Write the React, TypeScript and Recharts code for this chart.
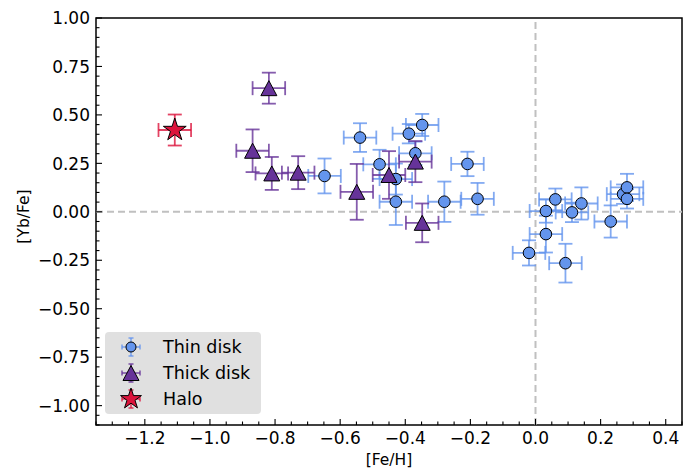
import { ScatterChart, Scatter, XAxis, YAxis, ErrorBar, ReferenceLine, ReferenceArea, Legend } from 'recharts';

// Thin disk stars
const thinFeH = [-0.648, -0.539, -0.479, -0.429, -0.429, -0.389, -0.348, -0.369, -0.28, -0.209, -0.178, -0.02, 0.032, 0.032, 0.061, 0.092, 0.112, 0.141, 0.231, 0.269, 0.281, 0.281];
const thinYbFe = [0.185, 0.383, 0.245, 0.169, 0.052, 0.403, 0.448, 0.302, 0.052, 0.247, 0.067, -0.212, -0.115, 0.004, 0.064, -0.265, -0.003, 0.043, -0.05, 0.091, 0.126, 0.067];
const thinErrFeH = [0.05, 0.05, 0.05, 0.05, 0.05, 0.05, 0.05, 0.05, 0.05, 0.05, 0.05, 0.05, 0.05, 0.05, 0.05, 0.05, 0.05, 0.05, 0.05, 0.05, 0.05, 0.05];
const thinErrYbFe = [0.09, 0.074, 0.075, 0.08, 0.12, 0.05, 0.057, 0.06, 0.104, 0.063, 0.082, 0.065, 0.095, 0.06, 0.056, 0.1, 0.05, 0.083, 0.083, 0.05, 0.07, 0.05];

// Thick disk stars
const thickFeH = [-0.819, -0.869, -0.81, -0.729, -0.549, -0.45, -0.369, -0.348];
const thickYbFe = [0.638, 0.315, 0.198, 0.202, 0.103, 0.19, 0.259, -0.057];
const thickErrFeH = [0.05, 0.05, 0.05, 0.05, 0.05, 0.05, 0.05, 0.05];
const thickErrYbFe = [0.08, 0.11, 0.085, 0.085, 0.144, 0.123, 0.106, 0.1];

// Halo star
const haloFeH = [-1.108];
const haloYbFe = [0.422];
const haloErrFeH = [0.05];
const haloErrYbFe = [0.08];

const xMajorTicks = [-1.2, -1.0, -0.8, -0.6, -0.4, -0.2, 0.0, 0.2, 0.4];
const yMajorTicks = [-1.0, -0.75, -0.5, -0.25, 0.0, 0.25, 0.5, 0.75, 1.0];

const X_DOMAIN = [-1.35, 0.45];
const Y_DOMAIN = [-1.1, 1.0];

// minor ticks every 0.05 (major ones included, drawn longer + labelled)
const xTicks = Array.from({ length: 37 }, (_, i) => Math.round((-1.35 + i * 0.05) * 100) / 100);
const yTicks = Array.from({ length: 43 }, (_, i) => Math.round((-1.1 + i * 0.05) * 100) / 100);

const FONT = '"DejaVu Sans", sans-serif';

const toRows = (xs: number[], ys: number[], exs: number[], eys: number[]) =>
  xs.map((x, i) => ({ x, y: ys[i], ex: exs[i], ey: eys[i] }));

const SERIES = [
  { name: 'Thin disk', color: '#6495ED', shape: 'circle', data: toRows(thinFeH, thinYbFe, thinErrFeH, thinErrYbFe) },
  { name: 'Thick disk', color: '#663399', shape: 'triangle', data: toRows(thickFeH, thickYbFe, thickErrFeH, thickErrYbFe) },
  { name: 'Halo', color: '#DC143C', shape: 'star', data: toRows(haloFeH, haloYbFe, haloErrFeH, haloErrYbFe) },
];

function starPath(cx: number, cy: number, R: number) {
  const r = R * 0.381966;
  const pts: string[] = [];
  for (let i = 0; i < 10; i++) {
    const a = -Math.PI / 2 + (i * Math.PI) / 5;
    const rad = i % 2 === 0 ? R : r;
    pts.push(`${cx + rad * Math.cos(a)},${cy + rad * Math.sin(a)}`);
  }
  return `M${pts.join('L')}Z`;
}

function marker(shape: string, color: string, cx: number, cy: number, small = false) {
  if (shape === 'circle') {
    return <circle cx={cx} cy={cy} r={small ? 5 : 5.8} fill={color} stroke="#000" strokeWidth={1} />;
  }
  if (shape === 'triangle') {
    const w = 8;
    const h = 7.5;
    return (
      <path
        d={`M${cx},${cy - h}L${cx + w},${cy + h}L${cx - w},${cy + h}Z`}
        fill={color}
        stroke="#000"
        strokeWidth={1}
        strokeLinejoin="miter"
      />
    );
  }
  return <path d={starPath(cx, cy, small ? 11 : 12)} fill={color} stroke="#000" strokeWidth={1} />;
}

const isMajor = (v: number, step: number) => Math.abs(v / step - Math.round(v / step)) < 1e-6;
const fmt = (v: number, d: number) => (Math.abs(v) < 1e-9 ? 0 : v).toFixed(d).replace('-', '\u2212');

function XTick({ x, y, payload }: any) {
  const major = isMajor(payload.value, 0.2);
  return (
    <g>
      <line x1={x} x2={x} y1={y} y2={y - (major ? 6 : 3.5)} stroke="#000" strokeWidth={1.1} />
      {major && (
        <text x={x} y={y + 19} textAnchor="middle" fontSize={17} fontFamily={FONT} fill="#000">
          {fmt(payload.value, 1)}
        </text>
      )}
    </g>
  );
}

function YTick({ x, y, payload }: any) {
  const major = isMajor(payload.value, 0.25);
  return (
    <g>
      <line x1={x} x2={x + (major ? 6 : 3.5)} y1={y} y2={y} stroke="#000" strokeWidth={1.1} />
      {major && (
        <text x={x - 6} y={y + 6.2} textAnchor="end" fontSize={17} fontFamily={FONT} fill="#000">
          {fmt(payload.value, 2)}
        </text>
      )}
    </g>
  );
}

function LegendBox() {
  return (
    <div
      style={{
        background: '#e0e0e0',
        borderRadius: 4,
        padding: '2px 0',
        fontFamily: FONT,
        fontSize: 17.5,
        color: '#000',
      }}
    >
      {SERIES.map((s) => (
        <div key={s.name} style={{ display: 'flex', alignItems: 'center', height: 26 }}>
          <svg width={52} height={26} style={{ marginLeft: 4, flex: 'none' }}>
            <g stroke={s.color} strokeOpacity={0.8} strokeWidth={1.6}>
              <line x1={13} x2={31} y1={13} y2={13} />
              <line x1={22} x2={22} y1={4} y2={22} />
              <line x1={13} x2={13} y1={10.5} y2={15.5} />
              <line x1={31} x2={31} y1={10.5} y2={15.5} />
              <line x1={19.5} x2={24.5} y1={4} y2={4} />
              <line x1={19.5} x2={24.5} y1={22} y2={22} />
            </g>
            {marker(s.shape, s.color, 22, 13, true)}
          </svg>
          <span style={{ marginLeft: 2, lineHeight: '26px' }}>{s.name}</span>
        </div>
      ))}
    </div>
  );
}

export default function App() {
  return (
    <div style={{ position: 'absolute', left: 0, top: 0 }}>
      <style>{'body{margin:0}'}</style>
      <ScatterChart width={695} height={468} margin={{ top: 18, right: 13, bottom: 0, left: 0 }}>
        <XAxis
          type="number"
          dataKey="x"
          domain={X_DOMAIN}
          ticks={xTicks}
          interval={0}
          allowDataOverflow
          axisLine={false}
          tickLine={false}
          tickSize={0}
          tickMargin={0}
          height={43}
          tick={<XTick />}
          label={{
            content: ({ viewBox }: any) => (
              <text
                x={viewBox.x + viewBox.width / 2}
                y={viewBox.y + 40}
                textAnchor="middle"
                fontSize={15.5}
                fontFamily={FONT}
                fill="#000"
              >
                [Fe/H]
              </text>
            ),
          }}
        />
        <YAxis
          type="number"
          dataKey="y"
          domain={Y_DOMAIN}
          ticks={yTicks}
          interval={0}
          allowDataOverflow
          axisLine={false}
          tickLine={false}
          tickSize={0}
          tickMargin={0}
          width={96}
          tick={<YTick />}
          label={{
            content: ({ viewBox }: any) => {
              const cx = viewBox.x + 29;
              const cy = viewBox.y + viewBox.height / 2 - 5;
              return (
                <text
                  x={cx}
                  y={cy}
                  transform={`rotate(-90 ${cx} ${cy})`}
                  textAnchor="middle"
                  fontSize={15.5}
                  fontFamily={FONT}
                  fill="#000"
                >
                  [Yb/Fe]
                </text>
              );
            },
          }}
        />
        <ReferenceLine y={0} stroke="#c0c0c0" strokeWidth={2} strokeDasharray="7 4" />
        <ReferenceLine x={0} stroke="#c0c0c0" strokeWidth={2} strokeDasharray="7 4" />
        <ReferenceArea
          x1={X_DOMAIN[0]}
          x2={X_DOMAIN[1]}
          y1={Y_DOMAIN[0]}
          y2={Y_DOMAIN[1]}
          fill="none"
          fillOpacity={0}
          stroke="#000"
          strokeWidth={1.5}
        />
        {SERIES.map((s) => (
          <Scatter
            key={s.name}
            name={s.name}
            data={s.data}
            isAnimationActive={false}
            shape={(p: any) => marker(s.shape, s.color, p.cx, p.cy)}
          >
            <ErrorBar dataKey="ex" direction="x" width={7} stroke={s.color} strokeOpacity={0.8} strokeWidth={1.8} />
            <ErrorBar dataKey="ey" direction="y" width={7} stroke={s.color} strokeOpacity={0.8} strokeWidth={1.8} />
          </Scatter>
        ))}
        <Legend
          layout="horizontal"
          verticalAlign="middle"
          align="center"
          content={<LegendBox />}
          wrapperStyle={{ left: 105, top: 332, width: 156, height: 86 }}
        />
      </ScatterChart>
    </div>
  );
}
